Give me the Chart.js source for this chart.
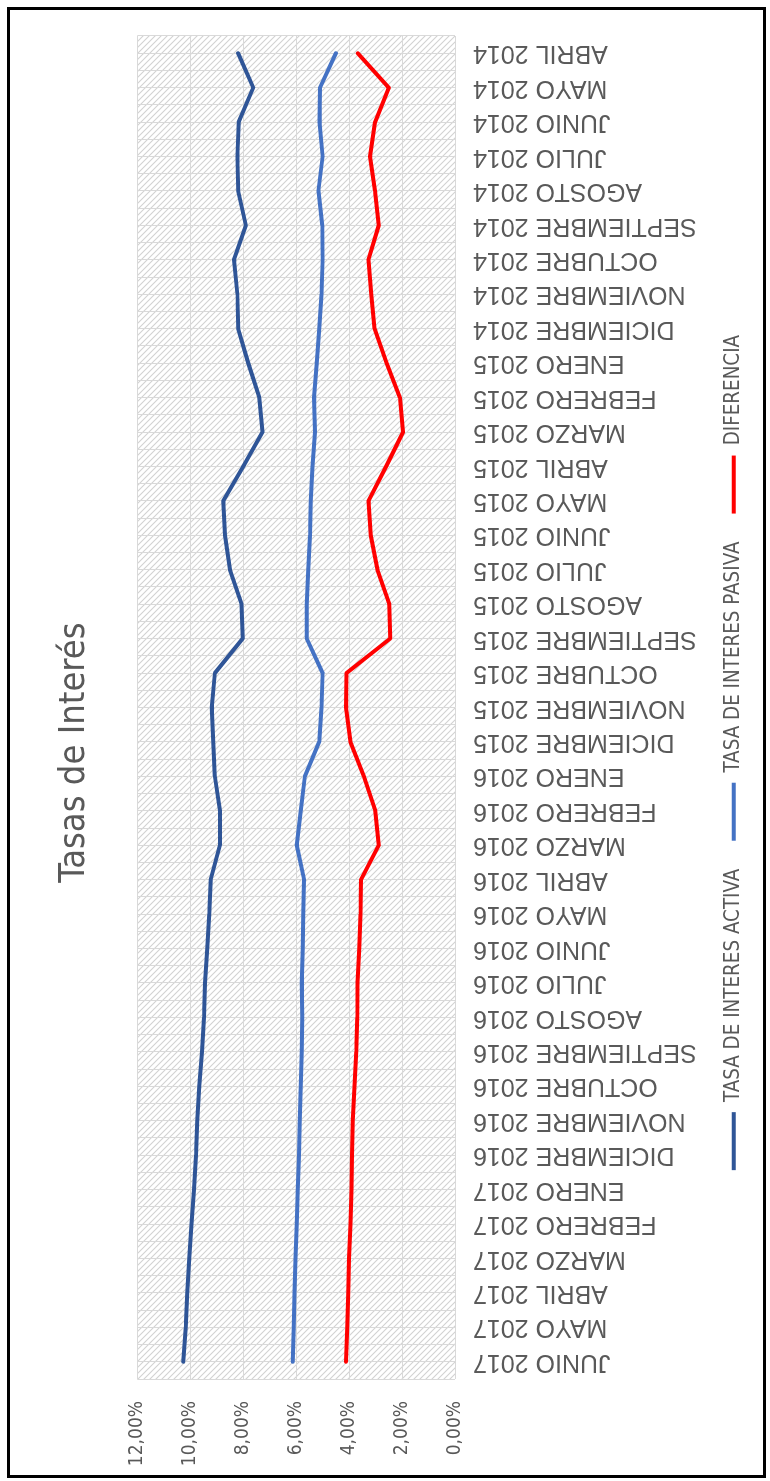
<!DOCTYPE html>
<html lang="es">
<head>
<meta charset="utf-8">
<title>Tasas de Interés</title>
<script src="https://cdn.jsdelivr.net/npm/chart.js@4.4.1/dist/chart.umd.min.js"></script>
<style>
  html, body { margin: 0; padding: 0; background: #fff; }
  body { width: 770px; height: 1481px; position: relative; overflow: hidden; }
  /* the chart is laid out landscape and turned a quarter turn counter-clockwise */
  #turn {
    position: absolute; left: 0; top: 0;
    width: 1481px; height: 770px;
    transform-origin: 0 0;
    transform: translateY(1481px) rotate(-90deg);
  }
  #frame {
    position: absolute; left: 7px; top: 7px;
    width: 759px; height: 1471px;
    box-sizing: border-box; border: 3px solid #000;
    pointer-events: none;
  }
</style>
</head>
<body>
<div id="turn"><canvas id="chart" width="1481" height="770"></canvas></div>
<div id="frame"></div>
<script>
// Monthly categories, oldest first
const categories = [
  'ABRIL 2014', 'MAYO 2014', 'JUNIO 2014', 'JULIO 2014', 'AGOSTO 2014', 'SEPTIEMBRE 2014',
  'OCTUBRE 2014', 'NOVIEMBRE 2014', 'DICIEMBRE 2014', 'ENERO 2015', 'FEBRERO 2015', 'MARZO 2015',
  'ABRIL 2015', 'MAYO 2015', 'JUNIO 2015', 'JULIO 2015', 'AGOSTO 2015', 'SEPTIEMBRE 2015',
  'OCTUBRE 2015', 'NOVIEMBRE 2015', 'DICIEMBRE 2015', 'ENERO 2016', 'FEBRERO 2016', 'MARZO 2016',
  'ABRIL 2016', 'MAYO 2016', 'JUNIO 2016', 'JULIO 2016', 'AGOSTO 2016', 'SEPTIEMBRE 2016',
  'OCTUBRE 2016', 'NOVIEMBRE 2016', 'DICIEMBRE 2016', 'ENERO 2017', 'FEBRERO 2017', 'MARZO 2017',
  'ABRIL 2017', 'MAYO 2017', 'JUNIO 2017'
];

// Rates in percent
const tasaActiva = [
  8.19, 7.62, 8.17, 8.22, 8.19, 7.90, 8.35, 8.22, 8.19, 7.81, 7.39, 7.27,
  8.00, 8.75, 8.69, 8.50, 8.06, 8.02, 9.07, 9.19, 9.13, 9.07, 8.88, 8.88,
  9.23, 9.28, 9.36, 9.44, 9.48, 9.56, 9.66, 9.74, 9.78, 9.86, 9.95, 10.04,
  10.11, 10.17, 10.26
];
const tasaPasiva = [
  4.50, 5.10, 5.12, 5.00, 5.16, 5.01, 5.00, 5.04, 5.13, 5.22, 5.33, 5.29,
  5.38, 5.45, 5.48, 5.54, 5.60, 5.60, 5.00, 5.04, 5.13, 5.67, 5.83, 5.98,
  5.70, 5.73, 5.75, 5.79, 5.77, 5.79, 5.83, 5.86, 5.89, 5.94, 5.98, 6.02,
  6.06, 6.09, 6.13
];
const diferencia = [
  3.67, 2.50, 3.02, 3.21, 3.02, 2.88, 3.27, 3.16, 3.04, 2.58, 2.08, 1.96,
  2.60, 3.27, 3.18, 2.93, 2.48, 2.45, 4.10, 4.12, 3.95, 3.44, 3.01, 2.88,
  3.55, 3.57, 3.62, 3.68, 3.69, 3.73, 3.80, 3.86, 3.89, 3.91, 3.95, 4.00,
  4.03, 4.07, 4.12
];

const valueTickLabels = ['0,00%', '2,00%', '4,00%', '6,00%', '8,00%', '10,00%', '12,00%'];
const seriesNames = ['TASA DE INTERES ACTIVA', 'TASA DE INTERES PASIVA', 'DIFERENCIA'];
const seriesColors = ['#2F5597', '#4472C4', '#FF0000'];

const CONDENSED = "'DejaVu Sans Condensed', 'Liberation Sans', sans-serif";
const REGULAR = "'Liberation Sans', Arial, sans-serif";
const TEXT = '#595959';
const GRID = '#D9D9D9';

// Diagonal hatch fill behind the plot area
const plotHatch = {
  id: 'plotHatch',
  beforeDraw(chart) {
    const { ctx, chartArea: a } = chart;
    const tile = document.createElement('canvas');
    tile.width = tile.height = 6;
    const t = tile.getContext('2d');
    t.strokeStyle = '#d2d2d2';
    t.lineWidth = 1.1;
    t.beginPath();
    t.moveTo(-1, -1); t.lineTo(7, 7);
    t.moveTo(-1, 5); t.lineTo(1, 7);
    t.moveTo(5, -1); t.lineTo(7, 1);
    t.stroke();
    ctx.save();
    ctx.fillStyle = '#ffffff';
    ctx.fillRect(a.left, a.top, a.right - a.left, a.bottom - a.top);
    ctx.fillStyle = ctx.createPattern(tile, 'repeat');
    ctx.fillRect(a.left, a.top, a.right - a.left, a.bottom - a.top);
    ctx.restore();
  }
};

const series = [tasaActiva, tasaPasiva, diferencia];

new Chart(document.getElementById('chart'), {
  type: 'line',
  data: {
    labels: categories,
    datasets: series.map((values, i) => ({
      label: seriesNames[i],
      data: values,
      borderColor: seriesColors[i],
      backgroundColor: seriesColors[i],
      borderWidth: 4,
      borderJoinStyle: 'round',
      borderCapStyle: 'round',
      pointRadius: 0,
      pointStyle: 'line',
      tension: 0,
      fill: false
    }))
  },
  options: {
    responsive: false,
    animation: false,
    devicePixelRatio: 1,
    layout: { padding: { top: 53.4, left: 12, right: 36, bottom: 16 } },
    scales: {
      x: {
        type: 'category',
        position: 'bottom',
        reverse: true,
        offset: true,
        grid: { offset: true, color: GRID, lineWidth: 1, drawTicks: false },
        border: { display: false },
        ticks: {
          autoSkip: false,
          minRotation: 90,
          maxRotation: 90,
          padding: 18,
          color: TEXT,
          font: { family: REGULAR, size: 25 }
        },
        afterFit: s => { s.height = 240.6; }
      },
      xMid: {
        type: 'category',
        position: 'bottom',
        reverse: true,
        offset: true,
        grid: { offset: false, color: GRID, lineWidth: 1, drawTicks: false },
        border: { display: false },
        ticks: { display: false }
      },
      y: {
        min: 0,
        max: 12,
        position: 'left',
        grid: { color: GRID, lineWidth: 1, drawTicks: false },
        border: { display: false },
        ticks: {
          stepSize: 2,
          padding: 22,
          color: TEXT,
          font: { family: CONDENSED, size: 19 },
          callback: (v, i) => valueTickLabels[i]
        },
        afterFit: s => { s.width = 90; }
      }
    },
    plugins: {
      title: {
        display: true,
        text: 'Tasas de Interés',
        color: TEXT,
        font: { family: CONDENSED, size: 36, weight: 'normal', lineHeight: 1.2 },
        padding: { top: 0, bottom: 40.7 }
      },
      legend: {
        display: true,
        position: 'bottom',
        labels: {
          usePointStyle: true,
          pointStyle: 'line',
          pointStyleWidth: 58,
          padding: 28,
          color: TEXT,
          font: { family: CONDENSED, size: 20.4 }
        }
      },
      tooltip: { enabled: false }
    }
  },
  plugins: [plotHatch]
});
</script>
</body>
</html>
